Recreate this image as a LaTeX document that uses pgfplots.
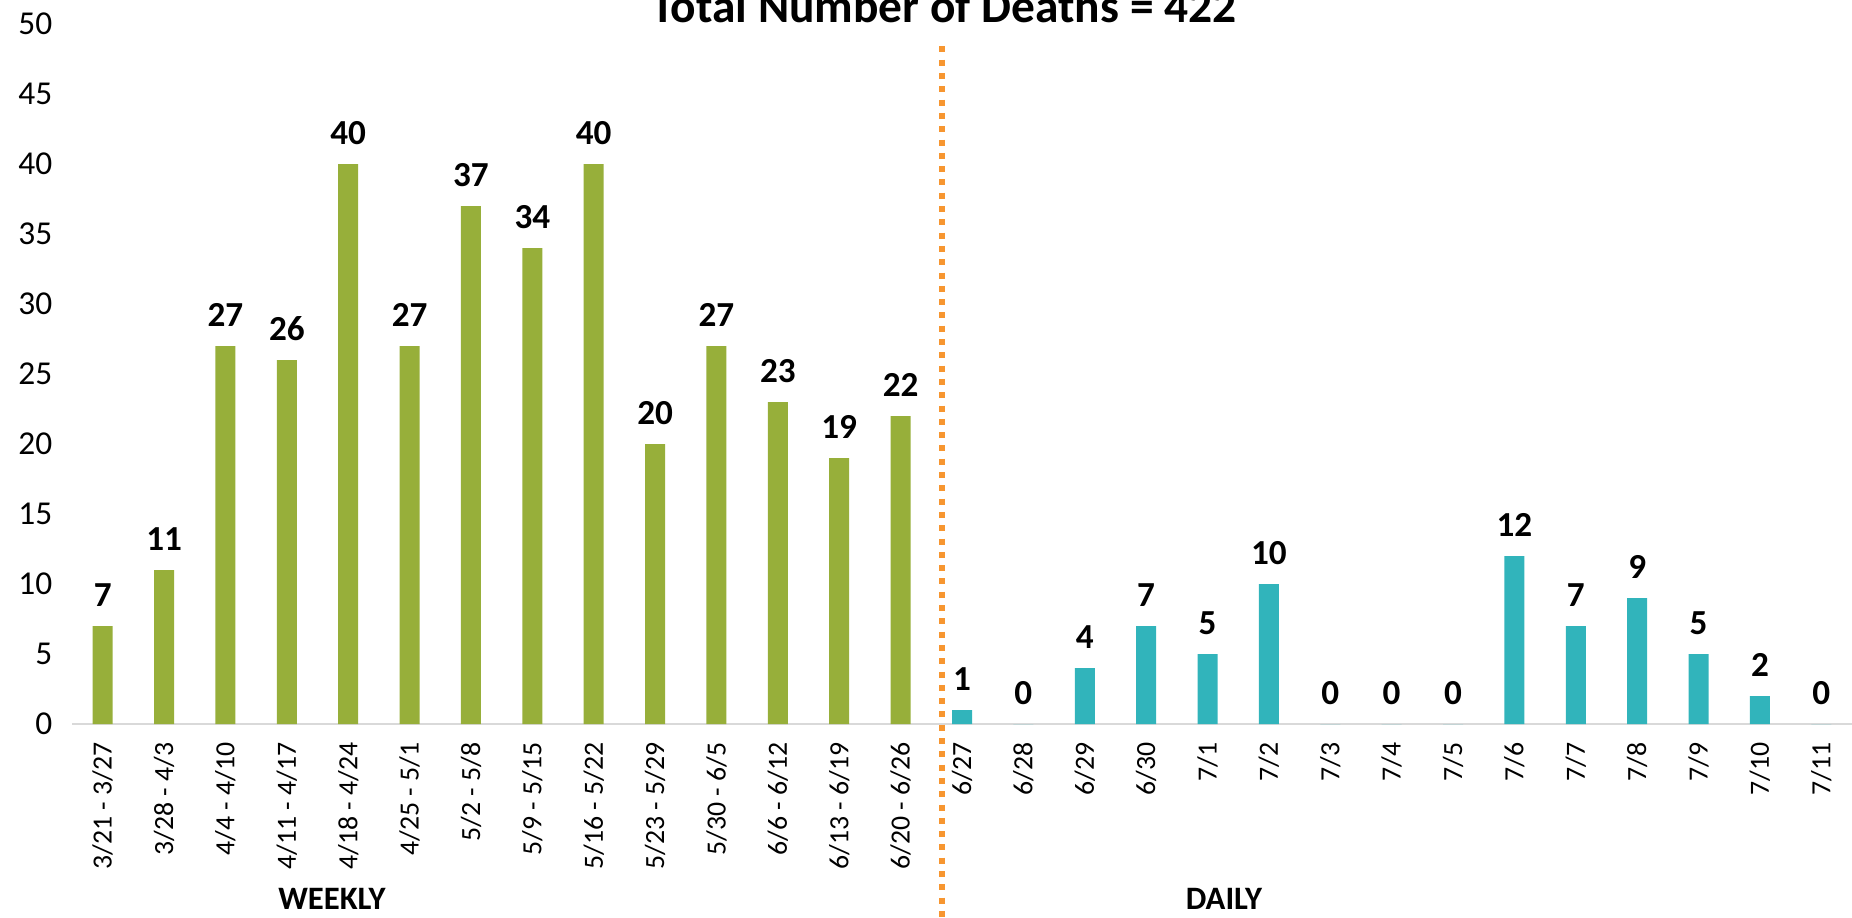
\documentclass[border=0pt]{standalone}
\usepackage{fontspec}
\setmainfont{Carlito}
\usepackage{pgfplots}
\pgfplotsset{compat=1.18}
\definecolor{wgreen}{RGB}{151,175,58}
\definecolor{dteal}{RGB}{49,180,187}
\definecolor{dorange}{RGB}{247,150,48}
\begin{document}
\begin{tikzpicture}
\begin{axis}[
  at={(7.2mm,19.3mm)}, anchor=south west,
  scale only axis, width=178mm, height=70mm,
  xmin=-0.5, xmax=28.5, ymin=0, ymax=50,
  axis line style={draw=none},
  major tick length=0pt,
  xtick={0,...,28},
  xticklabels={3/21 - 3/27,3/28 - 4/3,4/4 - 4/10,4/11 - 4/17,4/18 - 4/24,4/25 - 5/1,5/2 - 5/8,5/9 - 5/15,5/16 - 5/22,5/23 - 5/29,5/30 - 6/5,6/6 - 6/12,6/13 - 6/19,6/20 - 6/26,6/27,6/28,6/29,6/30,7/1,7/2,7/3,7/4,7/5,7/6,7/7,7/8,7/9,7/10,7/11},
  ytick={0,5,...,50},
  /pgf/number format/assume math mode=true,
  x tick label style={rotate=90, anchor=east, inner sep=0pt, xshift=-1.8mm, font=\fontsize{7.9}{9}\selectfont},
  y tick label style={anchor=east, inner sep=0pt, xshift=-1.9mm, font=\fontsize{9.5}{10}\selectfont},
  ybar, bar width=2.0mm, bar shift=0pt,
  nodes near coords,
  every node near coord/.append style={font=\bfseries\fontsize{10}{11}\selectfont, inner sep=0pt, anchor=south, yshift=1.9mm},
  clip=false,
]
\draw[black!15, line width=0.8pt] (axis cs:-0.5,0) -- (axis cs:28.5,0);
\addplot[fill=wgreen, draw=none] coordinates {
 (0,7) (1,11) (2,27) (3,26) (4,40) (5,27) (6,37) (7,34) (8,40) (9,20) (10,27) (11,23) (12,19) (13,22)};
\addplot[fill=dteal, draw=none] coordinates {
 (14,1) (15,0) (16,4) (17,7) (18,5) (19,10) (20,0) (21,0) (22,0) (23,12) (24,7) (25,9) (26,5) (27,2) (28,0)};
\draw[dorange, line width=0.6mm, dash pattern=on 0.6mm off 0.73mm] (axis cs:13.67,48.4) -- (axis cs:13.67,-14.5);
\end{axis}
\node[anchor=base, font=\bfseries\fontsize{13.5}{15}\selectfont, inner sep=0pt] at (94.4mm,89.4mm) {Total Number of Deaths = 422};
\node[anchor=base, font=\bfseries\fontsize{9.3}{10}\selectfont, inner sep=0pt] at (33.2mm,0.75mm) {WEEKLY};
\node[anchor=base, font=\bfseries\fontsize{9.3}{10}\selectfont, inner sep=0pt] at (122.4mm,0.75mm) {DAILY};
\pgfresetboundingbox
\useasboundingbox (0,0) rectangle (185.2mm,91.7mm);
\end{tikzpicture}
\end{document}
